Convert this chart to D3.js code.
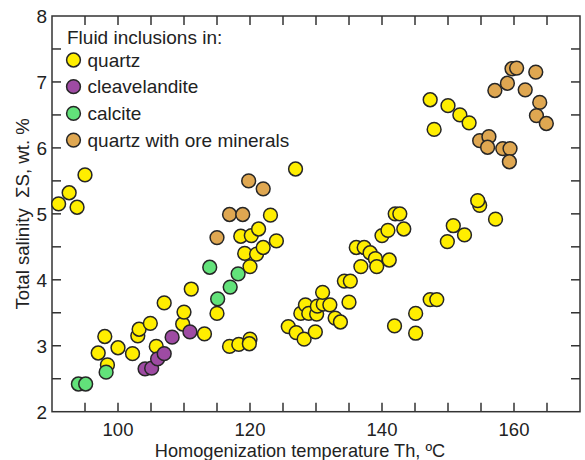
<!DOCTYPE html>
<html><head><meta charset="utf-8">
<script src="https://cdn.jsdelivr.net/npm/d3@7"></script>
<style>body{margin:0;background:#fff;} svg{display:block;font-family:"Liberation Sans",Arial,sans-serif;}</style>
</head><body>
<svg id="c" width="585" height="460"></svg>
<script>
// Data: [Th °C, salinity wt.%]
const quartz = [
[91.0,5.15],[92.6,5.32],[93.8,5.10],[95.0,5.59],
[97.0,2.89],[98.0,3.14],[98.4,2.71],[100.0,2.97],[102.2,2.88],[103.0,3.15],[103.2,3.25],[104.9,3.34],[105.8,2.99],[107.0,3.65],[109.8,3.33],[110.0,3.51],[111.1,3.86],[113.1,3.18],[115.0,3.49],
[116.9,2.99],[118.3,3.02],[120.0,3.10],[119.9,3.03],
[118.6,4.66],[120.2,4.67],[121.3,4.77],[123.1,4.98],[124.0,4.59],[119.2,4.40],[121.0,4.39],[122.0,4.49],[120.0,4.20],
[126.9,5.68],
[125.8,3.29],[127.0,3.20],[128.2,3.10],[129.9,3.21],[127.7,3.49],[128.4,3.62],[128.9,3.49],[130.1,3.48],[130.2,3.60],[131.1,3.63],[132.1,3.62],[131.0,3.81],[132.9,3.42],[133.7,3.36],[135.0,3.66],[134.3,3.98],[135.2,3.98],[136.8,4.20],[136.1,4.49],[137.3,4.49],[138.2,4.41],[139.0,4.32],[139.2,4.20],[141.1,4.30],[140.0,4.67],[140.9,4.75],[142.0,5.00],[142.7,5.00],[143.3,4.77],
[141.9,3.30],[145.1,3.49],[145.1,3.19],[147.3,3.70],[148.3,3.70],
[149.9,4.58],[150.8,4.82],[152.5,4.68],[154.8,5.13],[154.5,5.20],[157.2,4.92],
[147.3,6.73],[147.9,6.28],[150.0,6.64],[151.8,6.50],[153.2,6.38]
];
const cleavelandite = [[104.1,2.65],[105.1,2.66],[106.0,2.80],[107.0,2.88],[108.2,3.13],[110.9,3.21]];
const calcite = [[94.0,2.42],[95.1,2.42],[98.2,2.60],[113.9,4.19],[115.1,3.71],[117.0,3.89],[118.2,4.09]];
const oreQuartz = [
[115.0,4.64],[116.9,4.99],[118.9,4.99],[119.8,5.50],[122.0,5.38],
[157.1,6.87],[159.0,6.98],[159.7,7.20],[160.4,7.21],[163.3,7.15],[161.7,6.88],[163.9,6.69],[163.4,6.49],[164.9,6.37],
[154.8,6.11],[156.2,6.17],[156.0,6.01],[158.3,5.99],[159.4,5.99],[159.3,5.79]
];
const seriesNames = ["quartz","cleavelandite","calcite","quartz with ore minerals"];
const seriesColors = ["#FFEE00","#9E4BA3","#62E27A","#DFA751"];
const xTicks = [95,100,105,110,115,120,125,130,135,140,145,150,155,160,165];
const xLabels = [100,120,140,160];
const yTicks = [2.5,3,3.5,4,4.5,5,5.5,6,6.5,7,7.5];
const yLabels = [2,3,4,5,6,7,8];

const svg = d3.select("#c");
const L=52,R=580,T=16,B=411.7;
const x = d3.scaleLinear().domain([90,170]).range([L,R]);
const y = d3.scaleLinear().domain([2,8]).range([B,T]);
const axCol="#333", tl=9;

const g = svg.append("g");
const ax = g.append("g").attr("stroke",axCol).attr("stroke-width",1.5);
xTicks.forEach(v=>{
  ax.append("line").attr("x1",x(v)).attr("x2",x(v)).attr("y1",B).attr("y2",B-tl);
  ax.append("line").attr("x1",x(v)).attr("x2",x(v)).attr("y1",T).attr("y2",T+tl);
});
yTicks.forEach(v=>{
  ax.append("line").attr("x1",L).attr("x2",L+tl).attr("y1",y(v)).attr("y2",y(v));
  ax.append("line").attr("x1",R).attr("x2",R-tl).attr("y1",y(v)).attr("y2",y(v));
});
ax.append("rect").attr("x",L).attr("y",T).attr("width",R-L).attr("height",B-T).attr("fill","none");

g.selectAll(".xl").data(xLabels).join("text").attr("x",d=>x(d)).attr("y",B+24)
 .attr("text-anchor","middle").attr("font-size",18.5).attr("fill","#222").text(d=>d);
g.selectAll(".yl").data(yLabels).join("text").attr("x",L-5).attr("y",d=>y(d)+7)
 .attr("text-anchor","end").attr("font-size",19).attr("fill","#222").text(d=>d);

svg.append("text").attr("x",300).attr("y",456.5).attr("text-anchor","middle")
 .attr("font-size",18.2).attr("fill","#222").text("Homogenization temperature Th, ºC");
svg.append("text").attr("transform",`translate(29,${(T+B)/2}) rotate(-90)`).attr("text-anchor","middle")
 .attr("font-size",18.6).attr("fill","#222").attr("xml:space","preserve").text("Total salinity  ΣS, wt. %");

const data = [quartz, cleavelandite, calcite, oreQuartz];
const r=6.9;
data.forEach((arr,i)=>{
  svg.append("g").selectAll("circle").data(arr).join("circle")
   .attr("cx",d=>x(d[0])).attr("cy",d=>y(d[1])).attr("r",r)
   .attr("fill",seriesColors[i]).attr("stroke","#262626").attr("stroke-width",1.5);
});

const lg = svg.append("g");
lg.append("text").attr("x",67).attr("y",43.5).attr("font-size",19).attr("fill","#222").text("Fluid inclusions in:");
seriesNames.forEach((n,i)=>{
  const cy = 60 + i*26.7;
  lg.append("circle").attr("cx",73.5).attr("cy",cy).attr("r",r)
    .attr("fill",seriesColors[i]).attr("stroke","#262626").attr("stroke-width",1.5);
  lg.append("text").attr("x",87.5).attr("y",cy+6.5).attr("font-size",19).attr("fill","#222").text(n);
});
</script>
</body></html>
